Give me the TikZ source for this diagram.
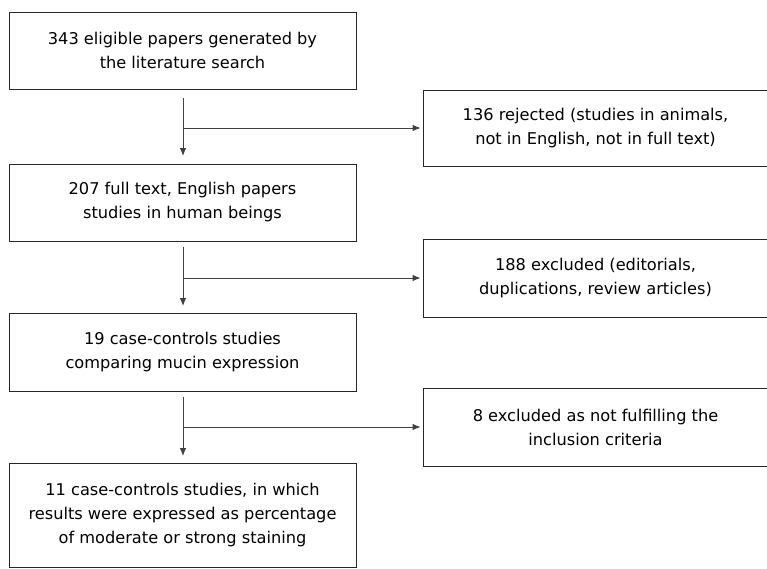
\documentclass[tikz,border=0pt]{standalone}
\usepackage{fontspec}
\setmainfont{DejaVu Sans}
\usetikzlibrary{arrows.meta}
\begin{document}
\begin{tikzpicture}[x=1pt,y=1pt,
  box/.style={draw=black!85,line width=0.9pt,rectangle,align=center,inner sep=0pt,
    font=\fontsize{16.2}{24}\selectfont},
  conn/.style={draw=black!75,line width=0.9pt},
  arr/.style={conn,-{Latex[length=8pt,width=6.5pt]}}]
\useasboundingbox (0,0) rectangle (767,-568);
% left column
\node[box,minimum width=347pt,minimum height=77pt] (b1) at (182.5,-50.5)
  {343 eligible papers generated by\\the literature search};
\node[box,minimum width=347pt,minimum height=77pt] (b2) at (182.5,-202.5)
  {207 full text, English papers\\studies in human beings};
\node[box,minimum width=347pt,minimum height=78pt] (b3) at (182.5,-352)
  {19 case-controls studies\\comparing mucin expression};
\node[box,minimum width=347pt,minimum height=104pt] (b4) at (182.5,-515)
  {11 case-controls studies, in which\\results were expressed as percentage\\of moderate or strong staining};
% right column
\node[box,minimum width=345pt,minimum height=76pt] (r1) at (595.5,-128)
  {136 rejected (studies in animals,\\not in English, not in full text)};
\node[box,minimum width=345pt,minimum height=78pt] (r2) at (595.5,-278)
  {188 excluded (editorials,\\duplications, review articles)};
\node[box,minimum width=345pt,minimum height=78pt] (r3) at (595.5,-427)
  {8 excluded as not fulfilling the\\inclusion criteria};
% connectors
\coordinate (s1) at (183,-98);  \coordinate (e1) at (183,-156); \coordinate (j1) at (183,-128);
\coordinate (s2) at (183,-247); \coordinate (e2) at (183,-306); \coordinate (j2) at (183,-278);
\coordinate (s3) at (183,-397); \coordinate (e3) at (183,-456); \coordinate (j3) at (183,-427);
\draw[arr] (s1) -- (e1);
\draw[arr] (j1) -- ([xshift=-2pt]r1.west);
\draw[arr] (s2) -- (e2);
\draw[arr] (j2) -- ([xshift=-2pt]r2.west);
\draw[arr] (s3) -- (e3);
\draw[arr] (j3) -- ([xshift=-2pt]r3.west);
\end{tikzpicture}
\end{document}
